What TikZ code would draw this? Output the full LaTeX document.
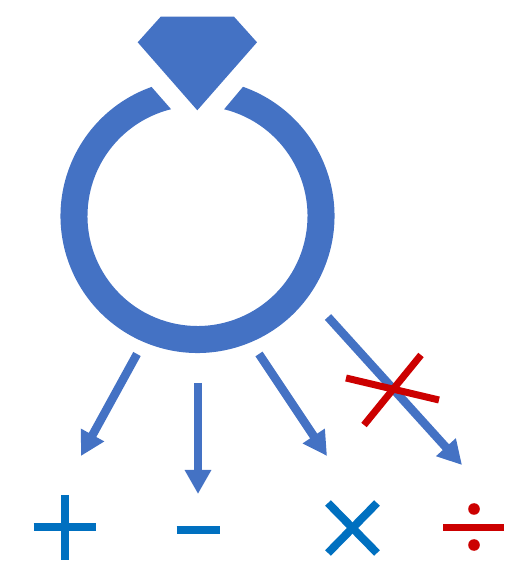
\documentclass[tikz,border=0pt]{standalone}
\usetikzlibrary{arrows.meta,calc}
\definecolor{ringblue}{HTML}{4472C4}
\definecolor{opblue}{HTML}{0070C0}
\definecolor{opred}{HTML}{CC0000}
\tikzset{arr/.style={-{Triangle[length=24pt,width=25pt]},line width=8.5pt,draw=ringblue},opsign/.style={line width=8pt,draw=opblue},nosign/.style={line width=7pt,draw=opred}}
\begin{document}
\begin{tikzpicture}[x=1pt,y=1pt]
\useasboundingbox (0,0) rectangle (504,578);
% ring and gem
\coordinate (c) at (197.5,362);
\fill[ringblue] ($(c)+(109.6:137pt)$) arc[start angle=109.6,end angle=430.6,radius=137pt] -- ($(c)+(76:110pt)$) arc[start angle=436,end angle=103.9,radius=110pt] -- cycle;
\fill[ringblue] (160.7,561.3)--(234,561.3)--(257,535.7)--(197.3,467.7)--(137.7,535.7)--cycle;
% arrows
\coordinate (s1) at (137,224);\coordinate (t1) at (81,122);
\coordinate (s2) at (198,195);\coordinate (t2) at (198,84);
\coordinate (s3) at (259,224);\coordinate (t3) at (327,122);
\coordinate (s4) at (328,261);\coordinate (t4) at (462,113);
\foreach \x/\y in {s1/t1,s2/t2,s3/t3,s4/t4}{\draw[arr](\x)--(\y);}
% crossed out
\draw[nosign](421,223)--(364,153);\draw[nosign](346,200)--(439,178);
% plus, minus, times
\draw[opsign](64.5,83)--(64.5,18);\draw[opsign](33.5,50.5)--(96,50.5);
\draw[opsign](176.5,48)--(220,48);
\draw[opsign](328,75)--(377,25);\draw[opsign](328,25)--(377,75);
% divide
\draw[nosign](443,50.5)--(504,50.5);
\fill[opred](474,69) circle[radius=5.8pt];\fill[opred](474,33) circle[radius=5.8pt];
\end{tikzpicture}
\end{document}
